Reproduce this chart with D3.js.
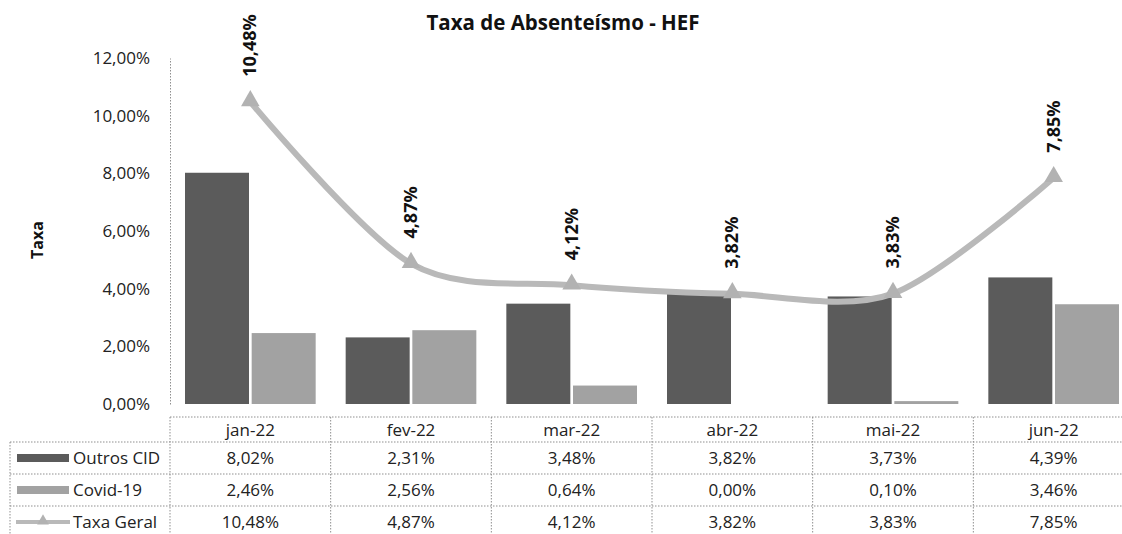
<!DOCTYPE html>
<html>
<head>
<meta charset="utf-8">
<script src="https://cdn.jsdelivr.net/npm/d3@7"></script>
<style>
  html, body { margin: 0; padding: 0; background: #fff; }
  svg { display: block; font-family: "Open Sans", "Noto Sans", sans-serif; }
</style>
</head>
<body>
<svg id="chart" width="1122" height="534"></svg>
<script>
// Absenteeism rates per month (percent)
const categories = ["jan-22", "fev-22", "mar-22", "abr-22", "mai-22", "jun-22"];
const outrosCid  = [8.02, 2.31, 3.48, 3.82, 3.73, 4.39];
const covid19    = [2.46, 2.56, 0.64, 0.00, 0.10, 3.46];
const taxaGeral  = [10.48, 4.87, 4.12, 3.82, 3.83, 7.85];
const yTicks     = [0, 2, 4, 6, 8, 10, 12];
const seriesNames = ["Outros CID", "Covid-19", "Taxa Geral"];

const W = 1122, H = 534;
const plot = { left: 170, right: 1134, top: 58, bottom: 404 };
const table = { top: 417, header: 25, row: 32, legendLeft: 10 };

const colOutros = "#5b5b5b";
const colCovid  = "#a2a2a2";
const colLine   = "#b9b9b9";
const gridCol   = "#8f8f8f";

const locale = d3.formatLocale({ decimal: ",", thousands: ".", grouping: [3], currency: ["", ""] });
const pct = v => locale.format(".2f")(v) + "%";

const svg = d3.select("#chart");

const x = d3.scaleBand().domain(categories).range([plot.left, plot.right]).padding(0);
const sub = d3.scaleBand().domain(["outros", "covid"])
  .range([15, x.bandwidth() - 15]).paddingInner(0.04);
const y = d3.scaleLinear().domain([0, 12]).range([plot.bottom, plot.top]);

// Title
svg.append("text")
  .attr("x", W / 2 + 2).attr("y", 30)
  .attr("text-anchor", "middle")
  .attr("font-weight", "bold").attr("font-size", 20.5)
  .attr("fill", "#111")
  .text("Taxa de Absenteísmo - HEF");

// Y axis title
svg.append("text")
  .attr("transform", `translate(43, 240) rotate(-90)`)
  .attr("text-anchor", "middle")
  .attr("font-weight", "bold").attr("font-size", 16)
  .attr("fill", "#111")
  .text("Taxa");

// Y axis
const yAxis = svg.append("g")
  .attr("transform", `translate(${plot.left},0)`)
  .call(d3.axisLeft(y).tickValues(yTicks).tickSize(0).tickPadding(20).tickFormat(pct));
yAxis.select(".domain").attr("stroke", gridCol).attr("stroke-dasharray", "1.5,1.5");
yAxis.selectAll("text").attr("font-size", 17).attr("fill", "#222")
  .attr("font-family", "Open Sans, sans-serif");

// Clip so that the last column runs off the right edge
svg.append("clipPath").attr("id", "clip")
  .append("rect").attr("x", 0).attr("y", 0).attr("width", W).attr("height", H);
const g = svg.append("g").attr("clip-path", "url(#clip)");

// Bars
const barData = categories.map((c, i) => ({ c, outros: outrosCid[i], covid: covid19[i] }));
const groups = g.selectAll(".grp").data(barData).join("g")
  .attr("transform", d => `translate(${x(d.c)},0)`);
groups.append("rect")
  .attr("x", sub("outros")).attr("width", sub.bandwidth())
  .attr("y", d => y(d.outros)).attr("height", d => y(0) - y(d.outros))
  .attr("fill", colOutros);
groups.append("rect")
  .attr("x", sub("covid")).attr("width", sub.bandwidth())
  .attr("y", d => y(d.covid)).attr("height", d => y(0) - y(d.covid))
  .attr("fill", colCovid);

// Smoothed line for the overall rate
const cx = c => x(c) + x.bandwidth() / 2;
const lineData = categories.map((c, i) => ({ c, v: taxaGeral[i] }));
g.append("path")
  .datum(lineData)
  .attr("fill", "none")
  .attr("stroke", colLine)
  .attr("stroke-width", 6)
  .attr("stroke-linejoin", "round")
  .attr("d", d3.line().x(d => cx(d.c)).y(d => y(d.v)).curve(d3.curveCardinal.tension(0.1)));

const tri = d3.symbol().type(d3.symbolTriangle).size(150);
g.selectAll(".mk").data(lineData).join("path")
  .attr("transform", d => `translate(${cx(d.c)},${y(d.v) - 1})`)
  .attr("d", tri)
  .attr("fill", "#b2b2b2");

// Data labels
g.selectAll(".lbl").data(lineData).join("text")
  .attr("transform", d => `translate(${cx(d.c) + 6},${y(d.v) - 25}) rotate(-90)`)
  .attr("font-weight", "bold").attr("font-size", 18)
  .attr("fill", "#111")
  .text(d => pct(d.v));

// Data table
const rows = [outrosCid, covid19, taxaGeral];
const tg = g.append("g");
const rowTop = i => table.top + table.header + i * table.row;
const tableBottom = H;
const dotted = sel => sel.attr("stroke", gridCol).attr("stroke-width", 1).attr("stroke-dasharray", "1.5,1.5");

// horizontal rules
tg.append("line").attr("x1", plot.left).attr("x2", plot.right)
  .attr("y1", table.top).attr("y2", table.top).call(dotted);
[0, 1, 2].forEach(i => {
  tg.append("line").attr("x1", table.legendLeft).attr("x2", plot.right)
    .attr("y1", rowTop(i)).attr("y2", rowTop(i)).call(dotted);
});
// vertical rules
tg.append("line").attr("x1", table.legendLeft).attr("x2", table.legendLeft)
  .attr("y1", rowTop(0)).attr("y2", tableBottom).call(dotted);
categories.forEach(c => {
  tg.append("line").attr("x1", x(c)).attr("x2", x(c))
    .attr("y1", table.top).attr("y2", tableBottom).call(dotted);
});

// header cells
tg.selectAll(".hd").data(categories).join("text")
  .attr("x", d => cx(d)).attr("y", table.top + table.header / 2)
  .attr("dy", "0.36em").attr("text-anchor", "middle")
  .attr("font-size", 17).attr("fill", "#222")
  .text(d => d);

// value cells
rows.forEach((vals, r) => {
  tg.selectAll(".v" + r).data(vals).join("text")
    .attr("x", (d, i) => cx(categories[i]))
    .attr("y", rowTop(r) + table.row / 2)
    .attr("dy", "0.36em").attr("text-anchor", "middle")
    .attr("font-size", 17).attr("fill", "#222")
    .text(d => pct(d));
});

// legend keys and names
seriesNames.forEach((name, r) => {
  const cy = rowTop(r) + table.row / 2;
  if (r < 2) {
    tg.append("rect").attr("x", 17).attr("y", cy - 4).attr("width", 52).attr("height", 8)
      .attr("fill", r === 0 ? colOutros : colCovid);
  } else {
    tg.append("line").attr("x1", 16).attr("x2", 70).attr("y1", cy).attr("y2", cy)
      .attr("stroke", colLine).attr("stroke-width", 4);
    tg.append("path").attr("transform", `translate(43,${cy - 1})`)
      .attr("d", d3.symbol().type(d3.symbolTriangle).size(60)).attr("fill", "#b2b2b2");
  }
  tg.append("text").attr("x", 73).attr("y", cy).attr("dy", "0.36em")
    .attr("font-size", 17).attr("fill", "#222").text(name);
});
</script>
</body>
</html>
